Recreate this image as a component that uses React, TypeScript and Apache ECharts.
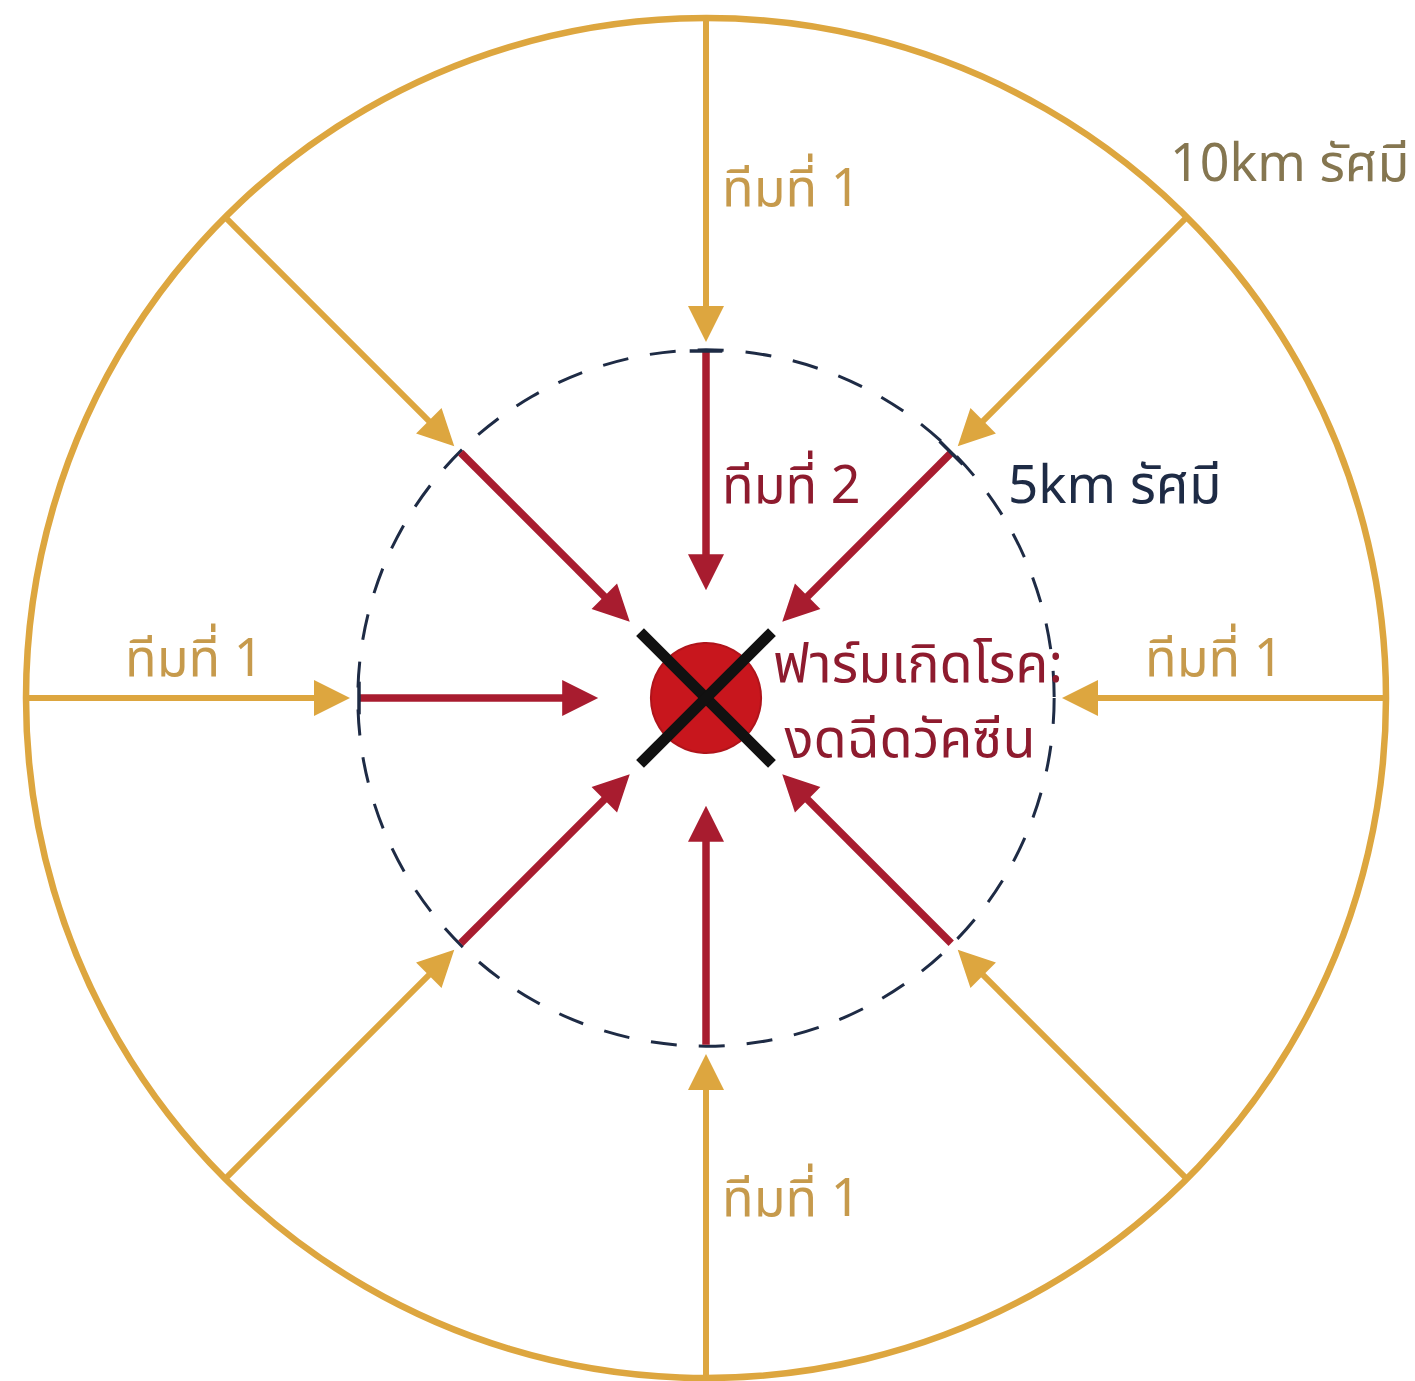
import React, { useEffect, useRef } from "react";
import * as echarts from "echarts";

// ---- data ----
const TEAM1_DIRECTIONS_DEG = [90, 45, 0, -45, -90, -135, 180, 135];
const TEAM2_DIRECTIONS_DEG = [90, 45, -45, -90, -135, 180, 135];
const TICK_DIRECTIONS_DEG = [90, 45, 180];
const OUTER_RADIUS_KM = 10;
const INNER_RADIUS_KM = 5.12;
const TEAM2_START_KM = 5.1;
const TEAM1_ARROW_END_KM = 5.5; // team 1 arrows stop just outside the 5 km ring
const TEAM2_ARROW_END_KM = 1.85; // team 2 arrows stop near the farm
const FARM_RADIUS_KM = 0.81;
const CROSS_HALF_KM = 0.97;
const TICK_HALF_KM = 0.24;

const TEAM1_LABEL = "ทีมที่ 1";
const TEAM2_LABEL = "ทีมที่ 2";
const OUTER_LABEL = "10km รัศมี";
const INNER_LABEL = "5km รัศมี";
const FARM_LABEL = ["ฟาร์มเกิดโรค:", "งดฉีดวัคซีน"];

// ---- layout / style ----
const CX = 706;
const CY = 698;
const PX_PER_KM = 68;
const X_MIN = -10.3, X_MAX = 10.3, Y_MIN = -10.0, Y_MAX = 10.2;
const GOLD = "#DDA63F";
const GOLD_TEXT = "#C69A4C";
const RED = "#A81C2F";
const DARK_RED_TEXT = "#8E1B2E";
const NAVY = "#1E2B45";
const FONT = "'Noto Sans Thai', 'Noto Sans Thai Looped', 'Noto Sans', Loma, Garuda, 'DejaVu Sans', sans-serif";

const rad = (d: number) => (d * Math.PI) / 180;
const pt = (deg: number, r: number) => [r * Math.cos(rad(deg)), r * Math.sin(rad(deg))];

export default function App() {
  const ref = useRef<HTMLDivElement>(null);
  useEffect(() => {
    document.body.style.margin = "0";
    if (!ref.current) return;
    const chart = echarts.init(ref.current, null, { renderer: "svg" });

    const team1 = TEAM1_DIRECTIONS_DEG.map((d) => ({ coords: [pt(d, OUTER_RADIUS_KM), pt(d, TEAM1_ARROW_END_KM)] }));
    const team2 = TEAM2_DIRECTIONS_DEG.map((d) => ({ coords: [pt(d, TEAM2_START_KM), pt(d, TEAM2_ARROW_END_KM)] }));
    const ticks = TICK_DIRECTIONS_DEG.map((d) => {
      const c = pt(d, TEAM2_START_KM);
      const p = [-Math.sin(rad(d)) * TICK_HALF_KM, Math.cos(rad(d)) * TICK_HALF_KM];
      return { coords: [[c[0] - p[0], c[1] - p[1]], [c[0] + p[0], c[1] + p[1]]] };
    });
    const cross = [
      { coords: [[-CROSS_HALF_KM, CROSS_HALF_KM], [CROSS_HALF_KM, -CROSS_HALF_KM]] },
      { coords: [[CROSS_HALF_KM, CROSS_HALF_KM], [-CROSS_HALF_KM, -CROSS_HALF_KM]] },
    ];

    const textEl = (t: string, x: number, y: number, fill: string, size = 52, align = "left") => ({
      type: "text",
      x,
      y,
      z: 100,
      style: { text: t, fill, font: `${size}px ${FONT}`, align, verticalAlign: "middle" },
    });

    const w = (X_MAX - X_MIN) * PX_PER_KM;
    const h = (Y_MAX - Y_MIN) * PX_PER_KM;

    chart.setOption({
      animation: false,
      backgroundColor: "#ffffff",
      grid: { left: CX + X_MIN * PX_PER_KM, top: CY - Y_MAX * PX_PER_KM, width: w, height: h },
      xAxis: { type: "value", min: X_MIN, max: X_MAX, show: false },
      yAxis: { type: "value", min: Y_MIN, max: Y_MAX, show: false },
      series: [
        {
          type: "custom",
          coordinateSystem: "cartesian2d",
          clip: false,
          z: 1,
          data: [
            [0, 0, OUTER_RADIUS_KM, 0],
            [0, 0, INNER_RADIUS_KM, 1],
          ],
          renderItem: (params: any, api: any) => {
            const c = api.coord([api.value(0), api.value(1)]);
            const r = api.size([api.value(2), 0])[0];
            const inner = api.value(3) === 1;
            return {
              type: "circle",
              shape: { cx: c[0], cy: c[1], r },
              style: inner
                ? { fill: "none", stroke: NAVY, lineWidth: 3, lineDash: [26, 22] }
                : { fill: "none", stroke: GOLD, lineWidth: 6.5 },
              z2: inner ? 5 : 1,
            };
          },
        },
        {
          type: "lines",
          coordinateSystem: "cartesian2d",
          z: 2,
          symbol: ["none", "triangle"],
          symbolSize: [34, 36],
          lineStyle: { color: GOLD, width: 6, opacity: 1, curveness: 0 },
          data: team1,
        },
        {
          type: "lines",
          coordinateSystem: "cartesian2d",
          z: 3,
          symbol: ["none", "triangle"],
          symbolSize: [38, 36],
          lineStyle: { color: RED, width: 7.5, opacity: 1, curveness: 0 },
          data: team2,
        },
        {
          type: "lines",
          coordinateSystem: "cartesian2d",
          z: 4,
          symbol: ["none", "none"],
          lineStyle: { color: NAVY, width: 3.5, opacity: 1, curveness: 0 },
          data: ticks,
        },
        {
          type: "scatter",
          z: 5,
          symbol: "circle",
          symbolSize: FARM_RADIUS_KM * 2 * PX_PER_KM,
          itemStyle: { color: "#C8161D", borderColor: "#B0141B", borderWidth: 2, opacity: 1 },
          data: [[0, 0]],
        },
        {
          type: "lines",
          coordinateSystem: "cartesian2d",
          z: 6,
          symbol: ["none", "none"],
          lineStyle: { color: "#111111", width: 11, opacity: 1, curveness: 0 },
          data: cross,
        },
      ],
      graphic: [
        textEl(TEAM1_LABEL, 722, 190, GOLD_TEXT),
        textEl(OUTER_LABEL, 1170, 165, "#857650", 52),
        textEl(TEAM2_LABEL, 722, 487, DARK_RED_TEXT),
        textEl(INNER_LABEL, 1008, 487, NAVY, 53),
        textEl(TEAM1_LABEL, 125, 660, GOLD_TEXT),
        textEl(TEAM1_LABEL, 1145, 660, GOLD_TEXT),
        textEl(FARM_LABEL[0], 918, 665, DARK_RED_TEXT, 54, "center"),
        textEl(FARM_LABEL[1], 910, 740, DARK_RED_TEXT, 54, "center"),
        textEl(TEAM1_LABEL, 722, 1200, GOLD_TEXT),
      ],
    });
    return () => chart.dispose();
  }, []);
  return <div ref={ref} style={{ width: 1415, height: 1381 }} />;
}
